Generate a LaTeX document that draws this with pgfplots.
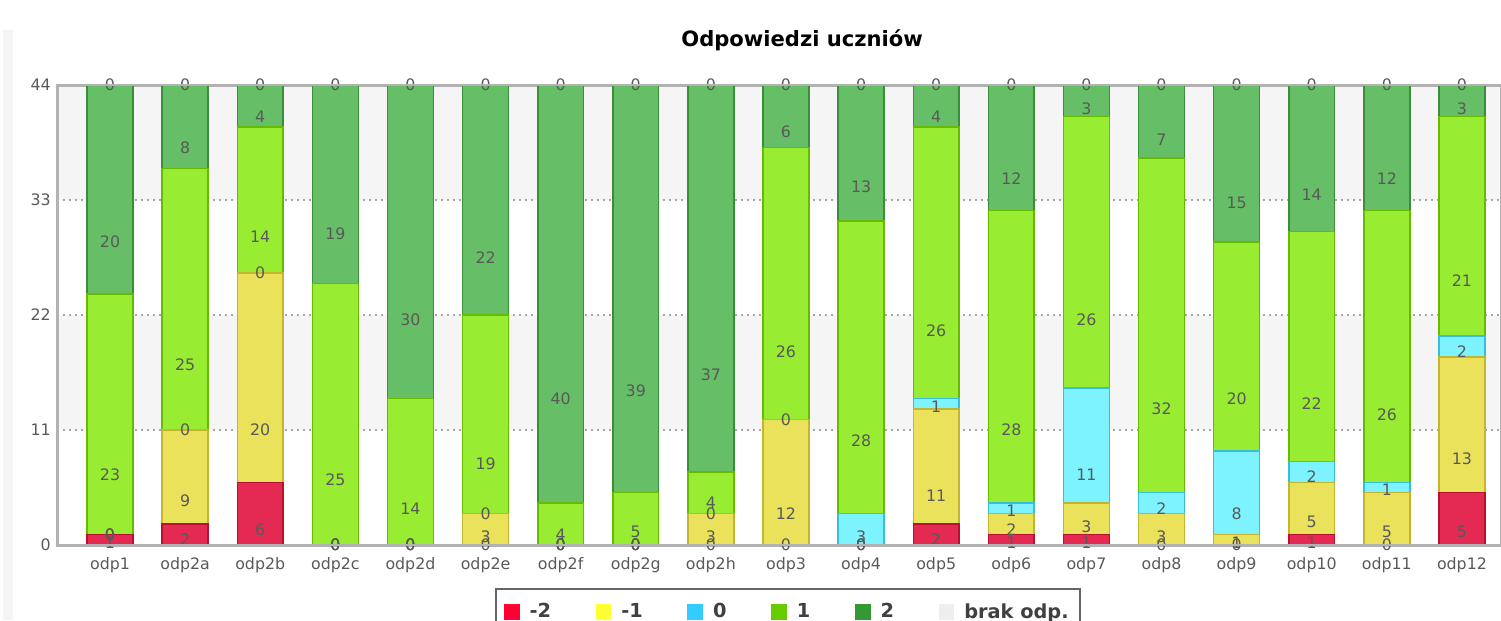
\documentclass[border=0pt]{standalone}
\usepackage{fontspec}
\setmainfont{DejaVu Sans}
\usepackage{pgfplots}
\pgfplotsset{compat=1.18}
\usepackage{pgfplotstable}

\definecolor{lred}{HTML}{FF0033}
\definecolor{lyel}{HTML}{FFFF33}
\definecolor{lcyan}{HTML}{33CCFF}
\definecolor{lgreen}{HTML}{66CC00}
\definecolor{ldgreen}{HTML}{339933}
\definecolor{lgray}{HTML}{EEEEEE}

\definecolor{rF}{HTML}{E42A52}\definecolor{rB}{HTML}{B8102F}
\definecolor{yF}{HTML}{EAE25A}\definecolor{yB}{HTML}{C4B530}
\definecolor{cF}{HTML}{7CF3FF}\definecolor{cB}{HTML}{38BEDD}
\definecolor{gF}{HTML}{98EC32}\definecolor{gB}{HTML}{66BB00}
\definecolor{dF}{HTML}{66BF66}\definecolor{dB}{HTML}{3A8E3A}

\pgfplotstableread{
x  m2 m1 z  p1 p2 b
0  1  0  0  23 20 0
1  2  9  0  25 8  0
2  6  20 0  14 4  0
3  0  0  0  25 19 0
4  0  0  0  14 30 0
5  0  3  0  19 22 0
6  0  0  0  4  40 0
7  0  0  0  5  39 0
8  0  3  0  4  37 0
9  0  12 0  26 6  0
10 0  0  3  28 13 0
11 2  11 1  26 4  0
12 1  2  1  28 12 0
13 1  3  11 26 3  0
14 0  3  2  32 7  0
15 0  1  8  20 15 0
16 1  5  2  22 14 0
17 0  5  1  26 12 0
18 5  13 2  21 3  0
}\data

\begin{document}
\begin{tikzpicture}
\useasboundingbox (0,0) rectangle (300.2mm,124mm);
\fill[black!4] (0.6mm,0) rectangle (2.6mm,118mm);
\fill[black!4] (11.4mm,38mm) rectangle (300.2mm,61mm);
\fill[black!4] (11.4mm,84mm) rectangle (300.2mm,107mm);
\begin{axis}[
  name=ax,
  at={(11.4mm,15mm)}, anchor=south west,
  scale only axis, width=288.8mm, height=92mm,
  ybar stacked, bar width=0.61,
  stacked ignores zero=false,
  xmin=-0.706, xmax=18.52, ymin=0, ymax=44,
  clip=false,
  xtick={0,...,18},
  xticklabels={odp1,odp2a,odp2b,odp2c,odp2d,odp2e,odp2f,odp2g,odp2h,odp3,odp4,odp5,odp6,odp7,odp8,odp9,odp10,odp11,odp12},
  ytick={0,11,22,33,44},
  major tick length=0pt,
  ymajorgrids, grid style={black!35, dash pattern=on 0.4mm off 0.8mm, line width=0.3mm},
  axis line style={draw=black!30, line width=0.6mm},
  tick label style={font=\fontsize{9}{10}\selectfont, text=black!65},
  xticklabel style={yshift=-1.2mm},
  /pgf/number format/assume math mode=true,
  title={Odpowiedzi uczniów},
  every axis title/.style={at={(0.516,1)}, anchor=center, yshift=9mm, font=\fontsize{12}{14}\selectfont\bfseries},
  point meta=explicit symbolic,
  nodes near coords={\pgfplotspointmeta},
  nodes near coords align={center},
  every node near coord/.append style={anchor=center, font=\fontsize{9}{10}\selectfont, text=black!65,
     shift={(axis direction cs:0,-\pgfplotspointmeta/4)}},
  legend columns=6,
  legend style={at={(0.3033,0)}, anchor=north west, yshift=-8.6mm,
     draw=black!60, line width=0.35mm, fill=white,
     font=\fontsize{11}{13}\selectfont\bfseries, text=black!75,
     inner xsep=1.6mm, inner ysep=2.2mm,
     /tikz/every even column/.append style={column sep=8.2mm}},
  legend cell align=left,
]
\addlegendimage{legend image code/.code={\fill[lred] (0mm,-1.4mm) rectangle (2.8mm,1.4mm); \path (4.1mm,0);}}
\addlegendimage{legend image code/.code={\fill[lyel] (0mm,-1.4mm) rectangle (2.8mm,1.4mm); \path (4.1mm,0);}}
\addlegendimage{legend image code/.code={\fill[lcyan] (0mm,-1.4mm) rectangle (2.8mm,1.4mm); \path (4.1mm,0);}}
\addlegendimage{legend image code/.code={\fill[lgreen] (0mm,-1.4mm) rectangle (2.8mm,1.4mm); \path (4.1mm,0);}}
\addlegendimage{legend image code/.code={\fill[ldgreen] (0mm,-1.4mm) rectangle (2.8mm,1.4mm); \path (4.1mm,0);}}
\addlegendimage{legend image code/.code={\fill[lgray] (0mm,-1.4mm) rectangle (2.8mm,1.4mm); \path (4.1mm,0);}}
\legend{-2,-1,0,1,2,brak odp.}

\addplot[forget plot, fill=rF, draw=rB, line width=0.3mm] table[x=x,y=m2,meta=m2]{\data};
\addplot[forget plot, fill=yF, draw=yB, line width=0.3mm] table[x=x,y=m1,meta=m1]{\data};
\addplot[forget plot, fill=cF, draw=cB, line width=0.3mm] table[x=x,y=z,meta=z]{\data};
\addplot[forget plot, fill=gF, draw=gB, line width=0.3mm] table[x=x,y=p1,meta=p1]{\data};
\addplot[forget plot, fill=dF, draw=dB, line width=0.3mm] table[x=x,y=p2,meta=p2]{\data};
\addplot[forget plot, fill=lgray, draw=black!20, line width=0.3mm] table[x=x,y=b,meta=b]{\data};
\end{axis}
\draw[black!30, line width=0.5mm] (ax.south west) -- (ax.south east);
\draw[black!30, line width=0.5mm] (ax.north west) -- (ax.north east);
\end{tikzpicture}
\end{document}
